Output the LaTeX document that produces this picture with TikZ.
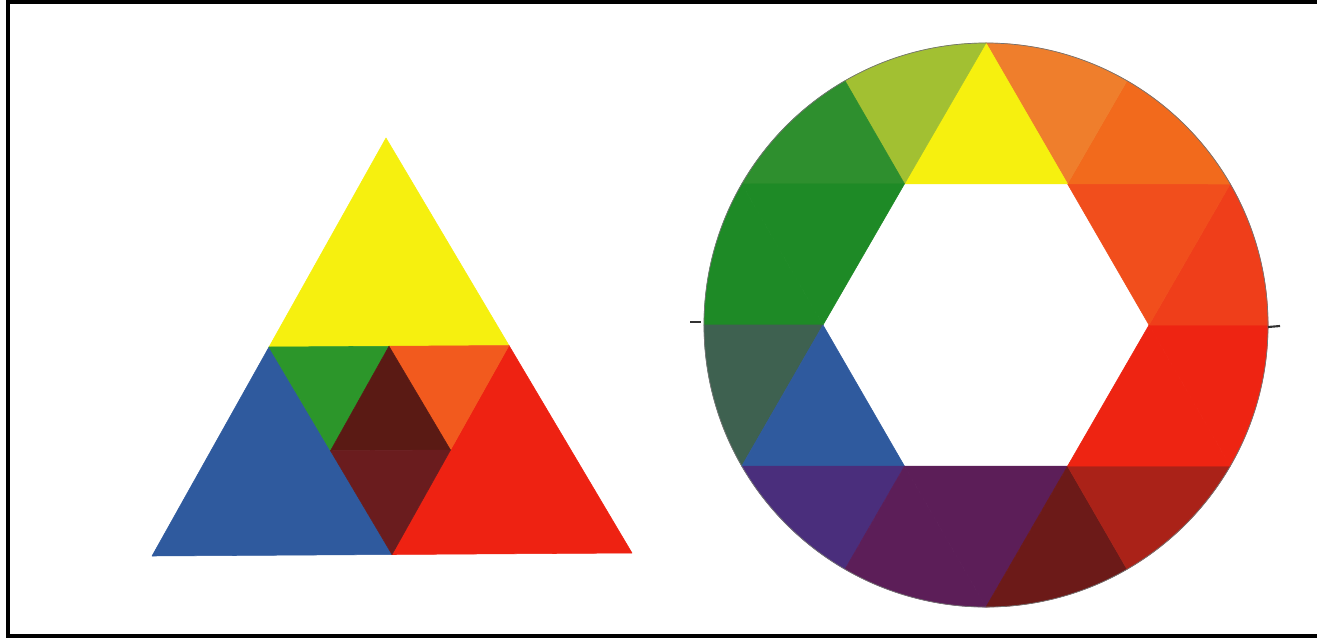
\documentclass[tikz,border=0pt]{standalone}
\usetikzlibrary{calc}
\definecolor{triYellow}{HTML}{F6F00F}
\definecolor{triBlue}{HTML}{2F5A9E}
\definecolor{triRed}{HTML}{EE2212}
\definecolor{triGreen}{HTML}{2C962A}
\definecolor{triOrange}{HTML}{F25A1E}
\definecolor{triCore}{HTML}{5A1A14}
\definecolor{triLow}{HTML}{6A1C1E}
\definecolor{whYellow}{HTML}{F6F00F}
\definecolor{whYelOrange}{HTML}{EF7E2C}
\definecolor{whOrange}{HTML}{F26A1C}
\definecolor{whOrangeTri}{HTML}{F14E1C}
\definecolor{whRedOrange}{HTML}{EF3E1A}
\definecolor{whRed}{HTML}{EE2412}
\definecolor{whDarkRed}{HTML}{AA2218}
\definecolor{whBrown}{HTML}{6C1A18}
\definecolor{whViolet}{HTML}{5C1E58}
\definecolor{whBlueViolet}{HTML}{4A2E7C}
\definecolor{whBlue}{HTML}{2F5A9E}
\definecolor{whTeal}{HTML}{3E6150}
\definecolor{whGreen}{HTML}{1E8A26}
\definecolor{whGreenLight}{HTML}{2E8F2E}
\definecolor{whYelGreen}{HTML}{A2C032}

\begin{document}
\begin{tikzpicture}[x=0.02cm, y=-0.02cm,
    patch/.style={fill=#1, draw=#1, line width=0.3pt, line join=round},
    frame/.style={draw=black, line width=0.08cm},
    tick/.style={draw=black!80, line width=1.2pt}
]
    \useasboundingbox (0,0) rectangle (1317,640);
    \fill[white] (0,0) rectangle (1317,640);
    \draw[frame] (1317,2) -- (8,2) -- (8,636) -- (1317,636);

    % colour triangle
    \coordinate (top) at (386,138);
    \coordinate (bl) at (152,556);
    \coordinate (br) at (632,553);
    \coordinate (ml) at ($(top)!0.5!(bl)$);
    \coordinate (mr) at ($(top)!0.5!(br)$);
    \coordinate (mb) at ($(bl)!0.5!(br)$);
    \coordinate (im) at ($(ml)!0.5!(mr)$);
    \coordinate (il) at ($(ml)!0.5!(mb)$);
    \coordinate (ir) at ($(mr)!0.5!(mb)$);

    \path[patch=triYellow] (top) -- (ml) -- (mr) -- cycle;
    \path[patch=triBlue] (ml) -- (bl) -- (mb) -- cycle;
    \path[patch=triRed] (mr) -- (mb) -- (br) -- cycle;
    \path[patch=triGreen] (ml) -- (im) -- (il) -- cycle;
    \path[patch=triOrange] (im) -- (mr) -- (ir) -- cycle;
    \path[patch=triCore] (im) -- (il) -- (ir) -- cycle;
    \path[patch=triLow] (il) -- (ir) -- (mb) -- cycle;

    % colour wheel
    \begin{scope}[shift={(986,325)}, y=0.02cm]
        \coordinate (wc) at (0,0);
        \foreach \a in {0,60,...,300}
            \coordinate (h\a) at (\a:163);
        \foreach \a/\cb/\ca/\ct in {0/whRed/whRedOrange/whOrangeTri,
                                    60/whOrange/whYelOrange/whYellow,
                                    120/whYelGreen/whGreenLight/whGreen,
                                    180/whGreen/whTeal/whBlue,
                                    240/whBlueViolet/whViolet/whViolet,
                                    300/whBrown/whDarkRed/whRed} {
            \path[patch=\cb] (h\a) -- ($(wc)+(\a-30:282)$)
                arc[start angle=\a-30, end angle=\a, radius=282] -- cycle;
            \path[patch=\ca] (h\a) -- ($(wc)+(\a:282)$)
                arc[start angle=\a, end angle=\a+30, radius=282] -- cycle;
            \path[patch=\ct] (h\a) -- ($(wc)+(\a+30:282)$) -- ($(wc)+(\a+60:163)$) -- cycle;
        }
        \draw[black!55, line width=0.4pt] (wc) circle[radius=282];
    \end{scope}

    \draw[tick] (690,322) -- (701,322);
    \draw[tick] (1268,327) -- (1280,326);
\end{tikzpicture}
\end{document}
